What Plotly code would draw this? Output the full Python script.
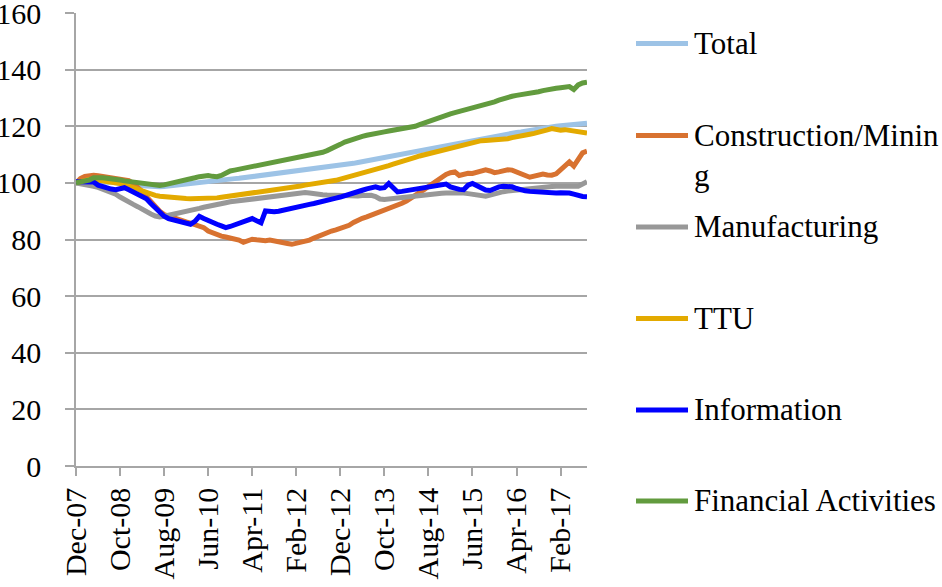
import plotly.graph_objects as go

# Month index 0 = Dec-07 ... 116 = Aug-17
tick_labels = ["Dec-07", "Oct-08", "Aug-09", "Jun-10", "Apr-11", "Feb-12",
               "Dec-12", "Oct-13", "Aug-14", "Jun-15", "Apr-16", "Feb-17"]

total = [100, 100.1, 100.2, 100.3, 100.3, 100.4, 100.4, 100.3, 100.2, 100.1, 100.0,
         99.8, 99.6, 99.4, 99.2, 99.0, 98.8, 98.7, 98.6, 98.6, 98.7,
         98.9, 99.0, 99.2, 99.4, 99.6, 99.8, 99.9, 100.1, 100.2, 100.4,
         100.6, 100.8, 100.9, 101.1, 101.3, 101.5, 101.6, 101.8, 102.0, 102.2,
         102.4, 102.6, 102.8, 103.0, 103.2, 103.3, 103.5, 103.7, 103.9, 104.0,
         104.2, 104.4, 104.5, 104.7, 104.9, 105.1, 105.3, 105.5, 105.7, 106.0,
         106.3, 106.6, 106.9, 107.2, 107.5, 107.8, 108.1, 108.4, 108.7, 109.0,
         109.3, 109.6, 109.9, 110.2, 110.5, 110.8, 111.2, 111.5, 111.8, 112.1,
         112.5, 112.8, 113.1, 113.4, 113.7, 114.0, 114.3, 114.6, 114.9, 115.1,
         115.4, 115.7, 115.9, 116.2, 116.5, 116.7, 117.0, 117.3, 117.5, 117.8,
         118.0, 118.3, 118.5, 118.8, 119.0, 119.3, 119.5, 119.8, 120.0, 120.2,
         120.4, 120.6, 120.8, 120.9, 121.0, 121.1]

construction = [100, 101.5, 102.3, 102.7, 102.7, 102.5, 102.3, 102.1, 102.0, 101.8, 101.6,
                101.3, 100.8, 99.8, 98.6, 97.0, 95.1, 93.4, 91.5, 90.0, 88.8,
                88.2, 87.6, 87.0, 86.6, 86.2, 85.8, 85.4, 85.0, 84.2, 83.0,
                82.4, 81.6, 81.2, 80.9, 80.5, 80.4, 79.8, 79.0, 79.6, 80.1,
                79.9, 79.7, 79.6, 79.8, 79.4, 79.0, 78.8, 78.6, 78.3, 78.6,
                79.0, 79.3, 79.8, 80.5, 81.2, 81.9, 82.5, 83.0, 83.4, 83.9,
                84.3, 85.0, 86.0, 86.9, 87.5, 88.0, 88.6, 89.1, 89.6, 90.0,
                90.6, 91.2, 92.0, 92.8, 93.6, 94.5, 95.5, 96.5, 97.6, 98.7,
                99.8, 100.9, 102.0, 103.0, 103.6, 103.9, 102.6, 103.2, 103.4, 103.3,
                103.6, 104.2, 104.6, 104.2, 103.6, 103.9, 104.3, 104.6, 104.5, 104.0,
                103.3, 102.6, 102.0, 102.3, 102.9, 103.1, 102.8, 102.7, 103.2, 104.5,
                105.6, 107.4, 105.9, 108.2, 110.6, 111.2]

manufacturing = [100, 99.8, 99.5, 99.1, 98.8, 98.4, 97.9, 97.3, 96.8, 96.0, 95.0,
                 94.0, 93.2, 92.4, 91.6, 90.6, 89.8, 89.0, 88.3, 88.0, 88.2,
                 88.5, 88.8, 89.1, 89.5, 89.8, 90.2, 90.6, 91.0, 91.4, 91.8,
                 92.1, 92.4, 92.7, 93.0, 93.3, 93.5, 93.7, 93.9, 94.1, 94.3,
                 94.5, 94.7, 94.8, 95.0, 95.1, 95.3, 95.5, 95.6, 95.8, 96.0,
                 96.3, 96.6, 96.4, 96.1, 95.9, 95.8, 95.7, 95.6, 95.5, 95.4,
                 95.4, 95.3, 95.3, 95.4, 95.5, 95.6, 95.6, 95.2, 94.3, 94.1,
                 94.3, 94.5, 94.7, 94.9, 95.1, 95.3, 95.5, 95.7, 95.8, 96.0,
                 96.1, 96.2, 96.3, 96.4, 96.5, 96.5, 96.5, 96.4, 96.2, 96.0,
                 95.8, 95.4, 95.3, 95.7, 96.2, 96.6, 96.9, 97.1, 97.3, 97.4,
                 97.6, 97.8, 98.0, 98.2, 98.4, 98.5, 98.6, 98.7, 98.8, 98.8,
                 98.8, 98.7, 98.6, 98.8, 99.6, 100.4]

ttu = [100, 100.5, 101.0, 101.2, 101.2, 101.0, 100.8, 100.7, 100.5, 100.2, 99.8,
       99.4, 99.0, 98.4, 97.8, 97.2, 96.6, 96.1, 95.6, 95.3, 95.1,
       95.0, 94.9, 94.7, 94.6, 94.5, 94.4, 94.4, 94.4, 94.4, 94.5,
       94.6, 94.7, 94.9, 95.1, 95.4, 95.7, 96.0, 96.2, 96.5, 96.7,
       96.9, 97.1, 97.3, 97.5, 97.7, 97.9, 98.1, 98.3, 98.5, 98.7,
       98.9, 99.2, 99.4, 99.6, 99.8, 100.0, 100.3, 100.6, 100.9, 101.3,
       101.7, 102.1, 102.5, 102.9, 103.3, 103.8, 104.2, 104.7, 105.2, 105.7,
       106.1, 106.6, 107.0, 107.5, 108.0, 108.5, 109.0, 109.5, 109.9, 110.3,
       110.7, 111.1, 111.6, 112.0, 112.4, 112.8, 113.2, 113.6, 114.0, 114.4,
       114.7, 114.9, 115.0, 115.1, 115.1, 115.2, 115.3, 115.6, 116.0, 116.4,
       116.8, 117.0, 117.2, 117.5, 117.8, 118.2, 118.7, 119.2, 118.8, 118.6,
       118.8, 118.6, 118.2, 117.9, 117.7, 117.6]

information = [100.4, 100.4, 100.5, 100.4, 100.3, 99.2, 98.6, 98.0, 97.8, 97.6, 98.0,
               98.3, 97.6, 96.8, 96.2, 95.6, 94.4, 92.7, 91.0, 89.6, 88.2,
               87.4, 87.0, 86.6, 86.2, 85.8, 85.4, 86.4, 88.2, 87.4, 86.6,
               86.0, 85.4, 84.8, 84.2, 84.6, 85.1, 85.6, 86.2, 86.8, 87.4,
               86.6, 85.9, 90.1, 89.9, 89.8, 90.0, 90.4, 90.8, 91.2, 91.5,
               91.8, 92.1, 92.4, 92.7, 93.0, 93.3, 93.8, 94.3, 94.6, 95.0,
               95.4, 95.8, 96.2, 96.8, 97.4, 97.9, 98.4, 98.6, 98.1, 98.3,
               99.8, 98.4, 96.8, 97.0, 97.3, 97.5, 97.7, 98.0, 98.3, 98.6,
               98.8, 99.0, 99.3, 99.6, 98.6, 98.0, 97.7, 97.6, 99.2, 99.8,
               98.9, 98.4, 97.5, 97.3, 98.2, 98.6, 98.8, 98.8, 98.6, 98.0,
               97.4, 97.2, 97.0, 96.9, 96.8, 96.5, 96.3, 96.2, 96.4, 96.5,
               96.5, 96.4, 96.0, 95.4, 95.2, 95.1]

financial = [100, 100.3, 100.6, 101.0, 101.8, 102.0, 101.8, 101.6, 101.5, 101.3, 101.0,
             100.7, 100.5, 100.2, 100.0, 99.6, 99.3, 99.1, 99.0, 99.1, 99.3,
             99.6, 100.0, 100.4, 100.7, 101.0, 101.4, 101.8, 102.2, 102.6, 102.6,
             102.3, 102.2, 102.6, 103.4, 104.2, 104.5, 104.8, 105.2, 105.6, 106.0,
             106.3, 106.5, 106.8, 107.1, 107.5, 107.7, 107.9, 108.1, 108.3, 108.6,
             108.9, 109.2, 109.5, 109.8, 110.2, 110.8, 111.4, 112.0, 112.8, 113.6,
             114.4, 115.0, 115.6, 116.0, 116.4, 116.8, 117.2, 117.5, 117.8, 118.0,
             118.3, 118.6, 118.8, 119.0, 119.2, 119.5, 120.0, 120.6, 121.2, 121.8,
             122.4, 122.8, 123.3, 123.8, 124.4, 124.8, 125.2, 125.6, 125.9, 126.2,
             126.6, 127.0, 127.5, 128.0, 128.6, 129.2, 129.8, 130.3, 130.6, 130.9,
             131.1, 131.3, 131.5, 131.8, 132.2, 132.6, 133.0, 133.2, 133.4, 133.6,
             133.8, 134.0, 133.0, 134.6, 135.3, 135.6]

series_names = ["Total", "Construction/Mining", "Manufacturing", "TTU",
                "Information", "Financial Activities"]
legend_texts = ["Total", "Construction/Minin<br>g", "Manufacturing", "TTU",
                "Information", "Financial Activities"]
series_values = [total, construction, manufacturing, ttu, information, financial]
colors = ["#9DC3E6", "#D87230", "#989898", "#E3AA00", "#0000FF", "#629B3E"]

FONT = "Times New Roman"
W, H = 942, 587
L, R, T, B = 76, 355, 13, 121
pw, ph = W - L - R, H - T - B


def px(x):
    return (x - L) / pw


def py(y):
    return (H - B - y) / ph


fig = go.Figure()
months = list(range(len(total)))
for name, vals, col in zip(series_names, series_values, colors):
    fig.add_trace(go.Scatter(x=months, y=vals, name=name, mode="lines",
                             line=dict(color=col, width=5), showlegend=False))

# Legend drawn with shapes + annotations to reproduce Excel spacing
leg_y = [43.5, 135.5, 227, 318.5, 410, 501]
for txt, col, yy in zip(legend_texts, colors, leg_y):
    fig.add_shape(type="line", xref="paper", yref="paper",
                  x0=px(636), x1=px(688), y0=py(yy), y1=py(yy),
                  line=dict(color=col, width=5))
    fig.add_annotation(xref="paper", yref="paper", x=px(692), y=py(yy - 20),
                       text=txt, showarrow=False, xanchor="left", yanchor="top",
                       align="left", font=dict(family=FONT, size=31, color="black"))

grid_col = "#A6A6A6"
fig.update_layout(
    template="none",
    width=W, height=H,
    margin=dict(l=L, r=R, t=T, b=B, pad=0, autoexpand=False),
    paper_bgcolor="white", plot_bgcolor="white",
    font=dict(family=FONT, size=30, color="black"),
    xaxis=dict(range=[0, len(total) - 1], tickmode="array",
               tickvals=[10 * k for k in range(len(tick_labels))],
               ticktext=tick_labels, tickangle=-90, automargin=False,
               showgrid=False, showline=True, linecolor=grid_col, linewidth=1.5,
               ticks="outside", ticklen=8, tickcolor=grid_col, tickwidth=1.5,
               zeroline=False, ticklabeloverflow="allow",
               tickfont=dict(family=FONT, size=30, color="black")),
    yaxis=dict(range=[0, 160], dtick=20, showgrid=True, gridcolor=grid_col,
               gridwidth=1.5, showline=True, linecolor=grid_col, linewidth=1.5,
               ticks="outside", ticklen=9, tickcolor=grid_col, tickwidth=1.5,
               zeroline=False, ticklabelstandoff=18, automargin=False,
               ticklabeloverflow="allow",
               tickfont=dict(family=FONT, size=30, color="black")),
)

fig.write_html("out.html", config={"displayModeBar": False},
               post_script="document.body.style.margin='0';")
